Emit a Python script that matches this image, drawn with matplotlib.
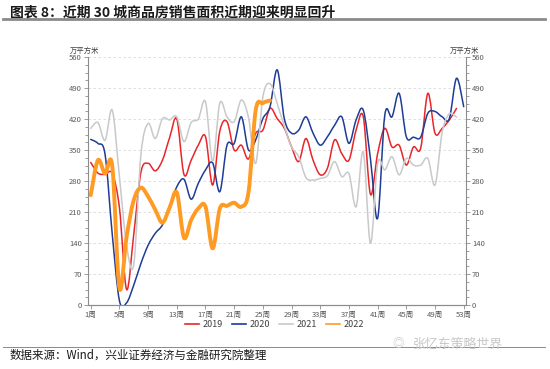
import numpy as np
import matplotlib.pyplot as plt
from matplotlib.path import Path
from matplotlib.patches import PathPatch
from matplotlib.lines import Line2D
from matplotlib.ticker import MultipleLocator

plt.rcParams['font.family'] = ['Noto Sans CJK SC', 'DejaVu Sans']

# 30城商品房销售面积（万平方米），按周
weeks_2019 = list(range(1, 53))
s2019 = [322, 298, 295, 297, 220, 35, 160, 300, 320, 303, 327, 378, 420, 295, 327, 361, 380, 271,
         393, 414, 350, 361, 330, 388, 395, 444, 421, 399, 357, 324, 376, 327, 294, 309, 373, 342,
         327, 395, 425, 250, 342, 399, 357, 361, 316, 357, 354, 478, 388, 399, 418, 444]
weeks_2020 = list(range(1, 54))
s2020 = [374, 365, 340, 160, 10, 5, 45, 94, 135, 162, 181, 222, 267, 284, 239, 275, 305, 321,
         256, 361, 365, 425, 350, 373, 421, 448, 531, 420, 388, 395, 425, 388, 361, 380, 406, 425,
         365, 418, 440, 330, 196, 429, 425, 478, 380, 379, 379, 433, 437, 425, 421, 512, 448]
weeks_2021 = list(range(1, 53))
s2021 = [399, 412, 372, 440, 290, 135, 92, 340, 410, 376, 421, 418, 425, 369, 412, 420, 459, 325,
         456, 425, 414, 463, 423, 320, 470, 500, 455, 403, 357, 335, 288, 282, 286, 292, 324, 290,
         297, 222, 346, 139, 320, 305, 335, 294, 331, 316, 316, 331, 271, 390, 432, 424]
weeks_2022 = list(range(1, 27))
s2022 = [248, 327, 297, 314, 38, 154, 237, 265, 245, 215, 186, 220, 254, 152, 192, 218, 222, 128,
         218, 224, 231, 222, 255, 440, 456, 462]

tick_weeks = list(range(1, 54, 4))
tick_labels = [f'{w}周' for w in tick_weeks]
y_ticks = list(range(0, 561, 70))


def smooth_path(x, y):
    # 平滑曲线（Catmull-Rom 转三次贝塞尔）
    p = np.column_stack([x, y]).astype(float)
    ext = np.vstack([p[0], p, p[-1]])
    verts = [p[0]]
    codes = [Path.MOVETO]
    for i in range(1, len(ext) - 2):
        c1 = ext[i] + (ext[i + 1] - ext[i - 1]) / 6
        c2 = ext[i + 1] - (ext[i + 2] - ext[i]) / 6
        verts += [c1, c2, ext[i + 1]]
        codes += [Path.CURVE4] * 3
    return Path(verts, codes)


fig = plt.figure(figsize=(5.5, 3.69), dpi=100)
ax = fig.add_axes([0.16, 0.1734, 0.687, 0.672])

series = [
    (weeks_2019, s2019, '#e8262a', 1.1, '2019'),
    (weeks_2020, s2020, '#1f3c96', 1.1, '2020'),
    (weeks_2021, s2021, '#c9c9c9', 1.1, '2021'),
    (weeks_2022, s2022, '#ff9a22', 2.8, '2022'),
]
handles = []
for x, y, c, lw, lab in series:
    ax.add_patch(PathPatch(smooth_path(x, y), fill=False, edgecolor=c, lw=lw,
                           capstyle='round', joinstyle='round'))
    handles.append(Line2D([], [], color=c, lw=1.2, label=lab))

ax.set_xlim(0.62, 53.3)
ax.set_ylim(0, 560)
ax.set_xticks(tick_weeks)
ax.set_xticklabels(tick_labels)
ax.set_yticks(y_ticks)
ax.yaxis.set_minor_locator(MultipleLocator(17.5))
ax.yaxis.grid(True, ls=(0, (3, 3)), color='#d9d9d9', lw=0.6)
ax.set_axisbelow(True)

ax2 = ax.twinx()
ax2.set_ylim(0, 560)
ax2.set_yticks(y_ticks)
ax2.yaxis.set_minor_locator(MultipleLocator(17.5))

for a in (ax, ax2):
    a.spines['top'].set_visible(False)
    for s in ('left', 'right', 'bottom'):
        a.spines[s].set_color('#8c8c8c')
        a.spines[s].set_linewidth(0.8)
    a.tick_params(which='both', direction='out', colors='#8c8c8c', labelcolor='#595959',
                  labelsize=5.5, width=0.6)
    a.tick_params(which='major', length=3, pad=1.5)
    a.tick_params(which='minor', length=2)
ax.spines['right'].set_visible(False)
ax2.spines['left'].set_visible(False)

fig.text(0.127, 0.862, '万平方米', fontsize=5.3, color='#404040', va='center')
fig.text(0.818, 0.862, '万平方米', fontsize=5.3, color='#404040', va='center')

fig.legend(handles=handles, loc='center', bbox_to_anchor=(0.5, 0.12), ncol=4, frameon=False,
           fontsize=6.5, handlelength=1.5, handletextpad=0.45, columnspacing=1.0,
           labelcolor='#404040')

# 标题与分隔线
fig.text(0.018, 0.965, '图表 8：近期 30 城商品房销售面积近期迎来明显回升', fontsize=10,
         fontweight='bold', color='#1a1a1a', va='center')
fig.add_artist(Line2D([0.006, 0.99], [0.948, 0.948], color='#8a8a8a', lw=2.0))
fig.add_artist(Line2D([0.006, 0.99], [0.060, 0.060], color='#8a8a8a', lw=0.7))
fig.text(0.018, 0.038, '数据来源：Wind，兴业证券经济与金融研究院整理', fontsize=8.3,
         color='#1a1a1a', va='center')
fig.text(0.751, 0.068, '张忆东策略世界', fontsize=9.3, color='#c8c8c8', va='center')
fig.text(0.714, 0.068, '◎', fontsize=8.5, color='#c8c8c8', va='center')

fig.savefig('out.png', dpi=100)
